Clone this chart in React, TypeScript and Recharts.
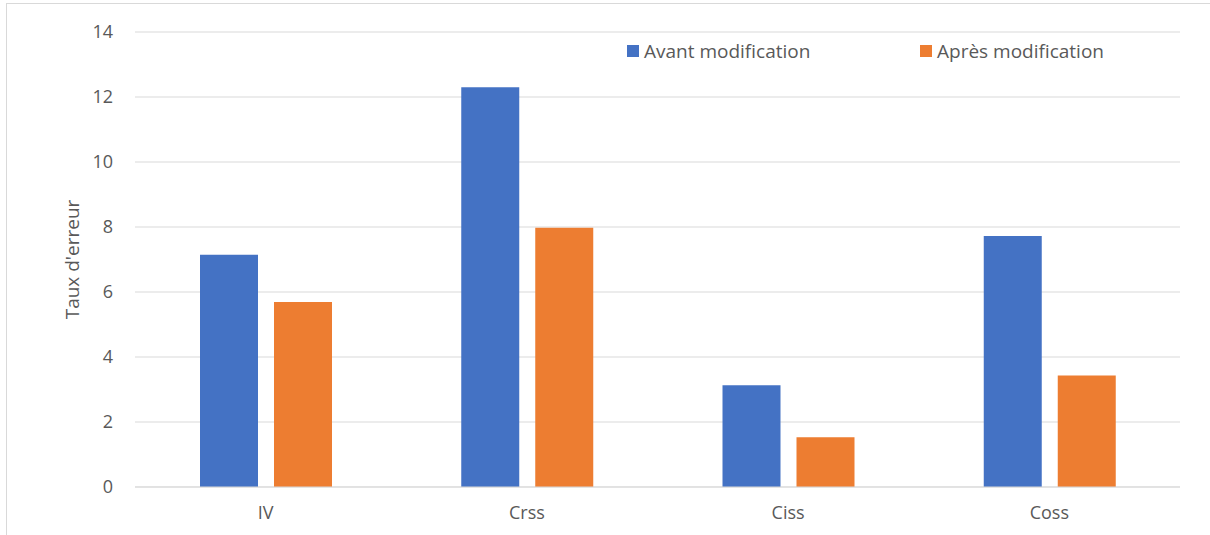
import React from "react";
import { BarChart, Bar, XAxis, YAxis, CartesianGrid } from "recharts";

const categories = ["IV", "Crss", "Ciss", "Coss"];
const avantValues = [7.15, 12.3, 3.13, 7.72];
const apresValues = [5.69, 7.98, 1.53, 3.43];
const yTicks = [0, 2, 4, 6, 8, 10, 12, 14];

const seriesDefs = [
  { key: "avant", label: "Avant modification", fill: "#4472C4" },
  { key: "apres", label: "Après modification", fill: "#ED7D31" },
];

const data = categories.map((name, i) => ({
  name,
  avant: avantValues[i],
  apres: apresValues[i],
}));

const FONT = "'Open Sans', 'Liberation Sans', sans-serif";
const TEXT = "#595959";
const GRID = "#d9d9d9";

const YLabel = (props: any) => {
  const vb = props.viewBox || {};
  const x = vb.x - 3;
  const y = vb.y + vb.height / 2;
  return (
    <text
      x={x}
      y={y}
      transform={`rotate(-90 ${x} ${y})`}
      textAnchor="middle"
      dominantBaseline="central"
      fill={TEXT}
      fontSize={19}
      fontFamily={FONT}
    >
      Taux d'erreur
    </text>
  );
};

// legend drawn as an overlay so it doesn't take room from the plot
const LegendOverlay = () => (
  <div style={{ position: "absolute", left: 627, top: 38, fontFamily: FONT }}>
    {seriesDefs.map((s, i) => (
      <div
        key={s.key}
        style={{
          position: "absolute",
          left: i === 0 ? 0 : 293,
          top: 0,
          height: 26,
          display: "flex",
          alignItems: "center",
          gap: 5,
          fontSize: 19,
          color: TEXT,
          whiteSpace: "nowrap",
        }}
      >
        <span
          style={{
            display: "inline-block",
            width: 12,
            height: 12,
            background: s.fill,
          }}
        />
        {s.label}
      </div>
    ))}
  </div>
);

export default function App() {
  return (
    <div
      style={{
        position: "absolute",
        left: 0,
        top: 0,
        width: 1210,
        height: 535,
        background: "#fff",
        overflow: "hidden",
      }}
    >
      <div
        style={{
          position: "absolute",
          left: 6,
          top: 3,
          width: 1220,
          height: 540,
          borderLeft: `1px solid ${GRID}`,
          borderTop: `1px solid ${GRID}`,
        }}
      />
      <BarChart
        width={1210}
        height={535}
        data={data}
        margin={{ top: 32, right: 30, bottom: 18, left: 75 }}
        barSize={58}
        barGap={16}
      >
        <CartesianGrid stroke={GRID} vertical={false} />
        <XAxis
          dataKey="name"
          tickLine={false}
          axisLine={{ stroke: GRID }}
          tickSize={6}
          tickMargin={13}
          height={30}
          tick={{ fontSize: 18, fill: TEXT, fontFamily: FONT }}
        />
        <YAxis
          width={60}
          domain={[0, 14]}
          ticks={yTicks}
          axisLine={false}
          tickLine={false}
          tickSize={6}
          tickMargin={16}
          tick={{ fontSize: 18, fill: TEXT, fontFamily: FONT }}
          label={<YLabel />}
        />
        {seriesDefs.map((s) => (
          <Bar
            key={s.key}
            dataKey={s.key}
            name={s.label}
            fill={s.fill}
            isAnimationActive={false}
          />
        ))}
      </BarChart>
      <LegendOverlay />
    </div>
  );
}
